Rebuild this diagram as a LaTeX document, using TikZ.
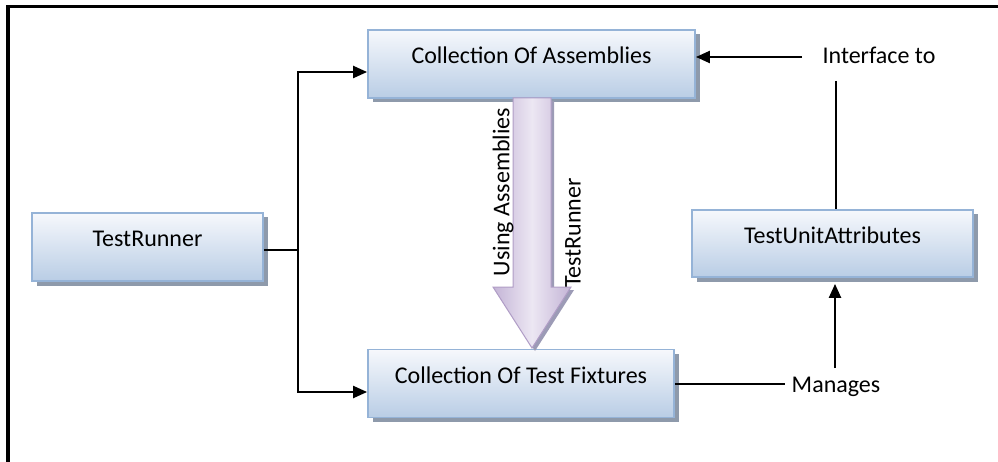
\documentclass[tikz,border=0pt]{standalone}
\usepackage{fontspec}
\setmainfont{Carlito}
\usetikzlibrary{arrows.meta,shadows,calc}
\definecolor{boxtop}{HTML}{F6F8FC}
\definecolor{boxbot}{HTML}{B9CDE5}
\definecolor{boxline}{HTML}{95B3D7}
\definecolor{shadowc}{HTML}{8E9AAB}
\definecolor{arrl}{HTML}{C4B4D6}
\definecolor{arrm}{HTML}{ECE7F3}
\definecolor{arrline}{HTML}{B09DC6}
\tikzset{
  x=1pt, y=-1pt,
  boxnode/.style={draw=boxline, line width=1.8pt, top color=boxtop, bottom color=boxbot,
    minimum width=#1, minimum height=68pt, font=\fontsize{24}{28}\selectfont,
    text height=10pt, text depth=10pt,
    drop shadow={shadow xshift=4.5pt, shadow yshift=-4.5pt, fill=shadowc, opacity=1}},
  lbl/.style={font=\fontsize{24}{28}\selectfont, inner sep=0pt},
  conn/.style={line width=2.2pt},
  arr/.style={conn, -{Triangle[length=14pt,width=12pt]}},
}
\begin{document}
\begin{tikzpicture}
\useasboundingbox (0,0) rectangle (998,462);
\fill[white] (0,0) rectangle (998,462);
% frame
\draw[line width=3.5pt] (8,470) -- (8,6.5) -- (1005,6.5);
% boxes
\node[boxnode=327pt] (asm) at (531.5,64) {Collection Of Assemblies};
\node[boxnode=231pt] (tr) at (147.5,247) {TestRunner};
\node[boxnode=306pt] (fix) at (521,383.5) {Collection Of Test Fixtures};
\node[boxnode=281pt, minimum height=67pt] (tua) at (832.5,243.5) {TestUnitAttributes};
% big arrow
\fill[shadowc!60!arrline] (516,101) -- (554,101) -- (554,290) -- (574,290) -- (535,351) -- (496,290) -- (516,290) -- cycle;
\shade[left color=arrl, right color=arrl, middle color=arrm, draw=arrline, line width=1pt]
  (513,98) -- (551,98) -- (551,287) -- (571,287) -- (532,348) -- (493,287) -- (513,287) -- cycle;
\node[lbl, rotate=90] (ua) at (503,192) {Using Assemblies};
\node[lbl, rotate=90] (trl) at (573,233) {TestRunner};
% connectors
\coordinate (j) at (298,250);
\coordinate (jt) at (298,72);
\coordinate (jb) at (298,392);
\draw[conn] (tr.east |- j) -- (j);
\draw[arr] (jb) -- (jt) -- (asm.west |- jt);
\draw[arr] (jt) -- (jb) -- (fix.west |- jb);
% interface to
\node[lbl, anchor=base] (itf) at (879,64) {Interface to};
\coordinate (itfs) at (802,57);
\draw[arr] (itfs) -- (asm.east |- itfs);
\coordinate (itfb) at (836,81);
\draw[conn] (itfb) -- (tua.north -| itfb);
% manages
\node[lbl, anchor=base] (mng) at (836,392) {Manages};
\coordinate (mnge) at (785,384);
\draw[conn] (fix.east |- mnge) -- (mnge);
\coordinate (mngt) at (835,368);
\draw[arr] (mngt) -- ($(tua.south -| mngt)+(0,6)$);
\end{tikzpicture}
\end{document}
